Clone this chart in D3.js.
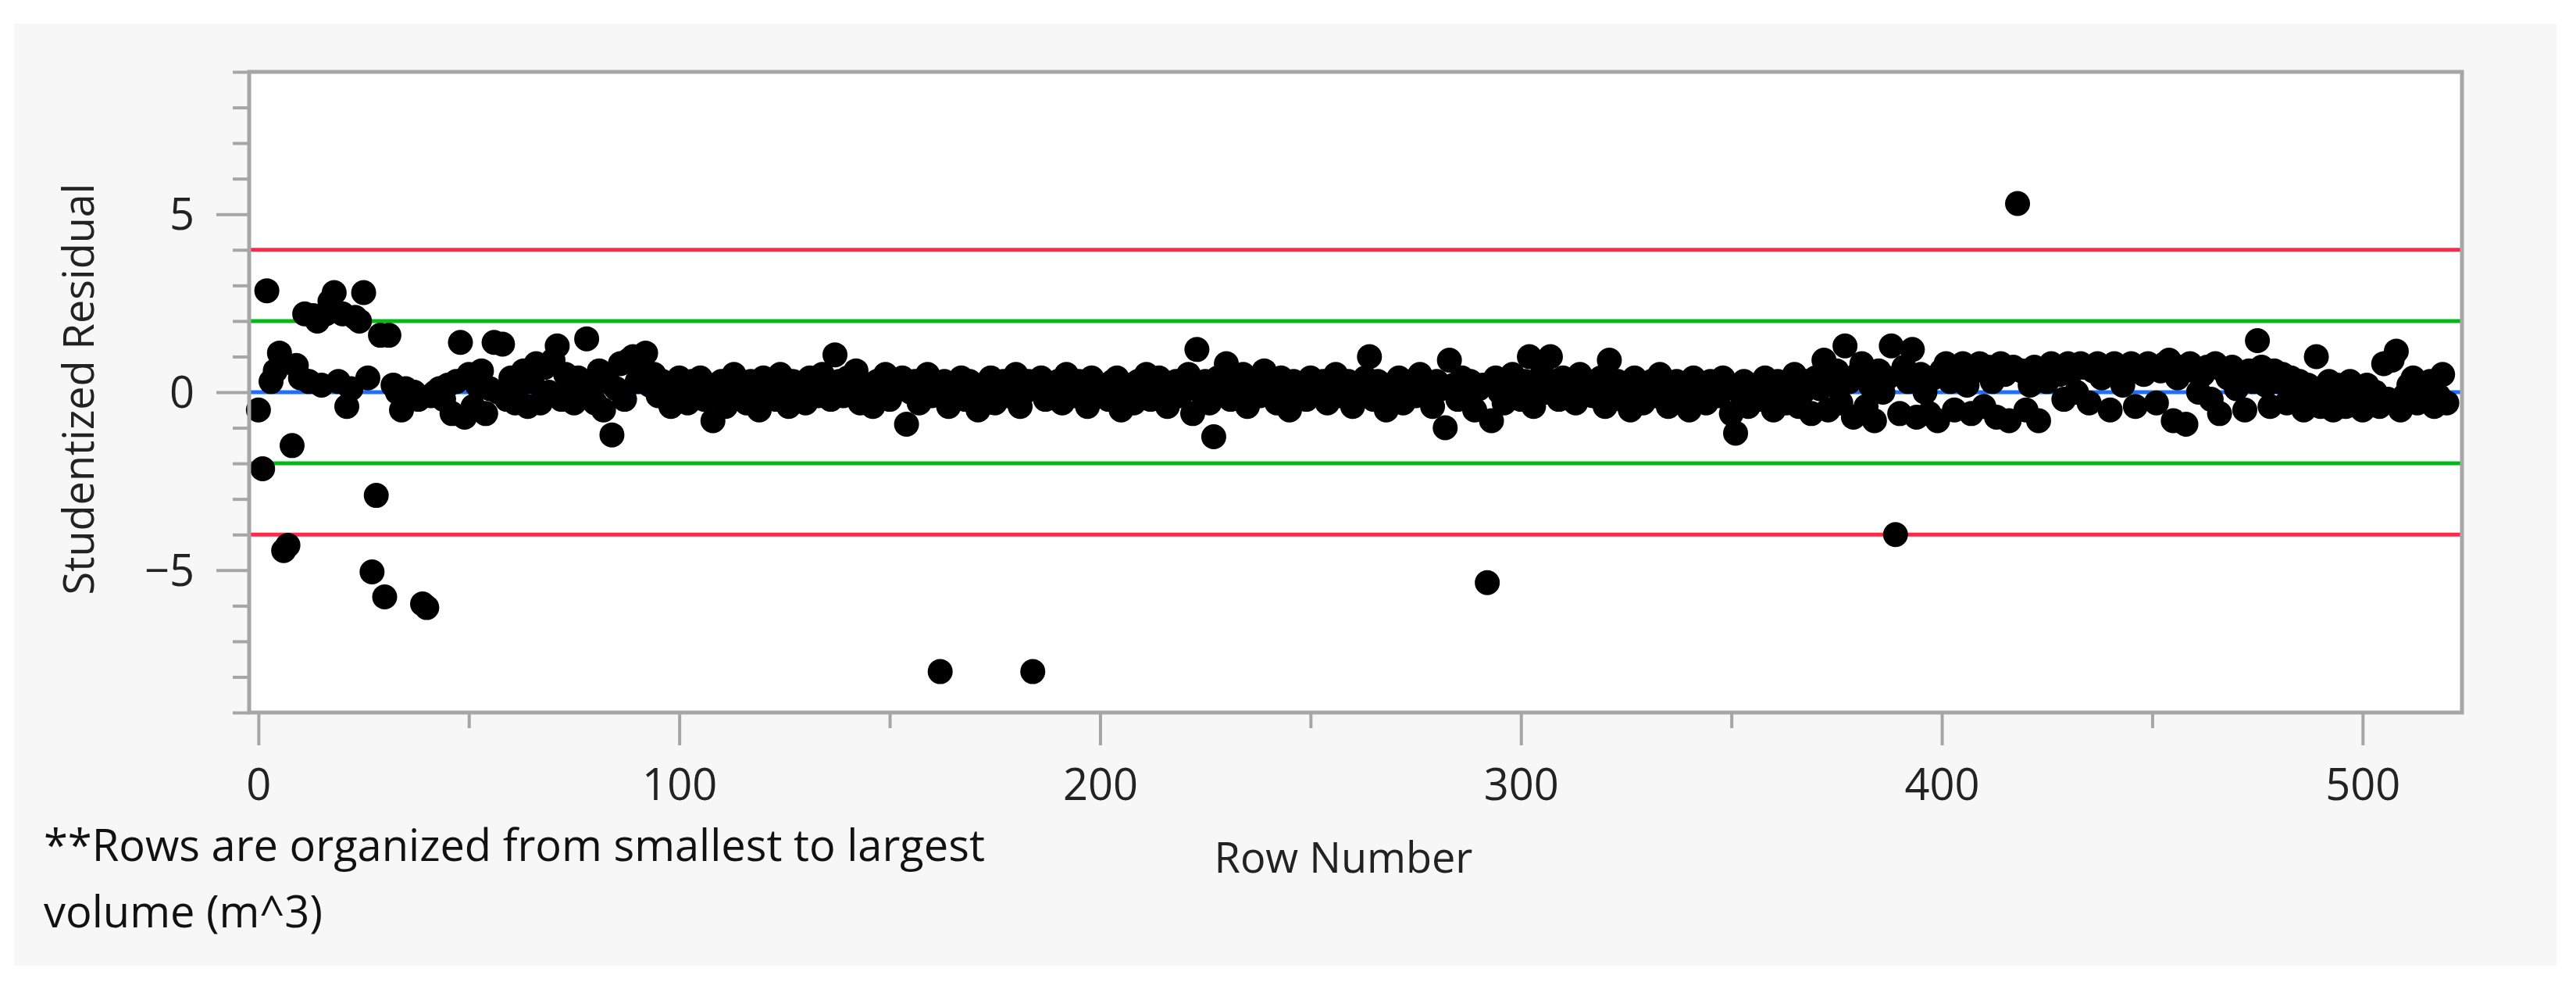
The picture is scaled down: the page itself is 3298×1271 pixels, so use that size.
<!DOCTYPE html>
<html><head><meta charset="utf-8">
<script src="https://cdn.jsdelivr.net/npm/d3@7"></script>
<style>body{margin:0;background:#fff}</style></head>
<body><svg id="c" width="3298" height="1271"></svg>
<script>
// Studentized residual by row number (rows 0..520)
const rows0to40 = [-0.5,-2.15,2.85,0.3,0.6,1.1,-4.45,-4.3,-1.5,0.75,0.4,2.2,0.3,2.15,2.0,0.2,2.2,2.55,2.8,0.3,2.2,-0.4,0.1,2.1,2.0,2.8,0.4,-5.05,-2.9,1.6,-5.75,1.6,0.2,0.0,-0.5,0.1,-0.1,0.0,-0.2,-5.95,-6.05];
const rows41to100 = [-0.1,0.0,0.1,-0.2,0.2,-0.6,0.3,1.4,-0.7,0.5,-0.4,0.2,0.6,-0.6,0.1,1.4,0.0,1.35,-0.2,0.4,-0.3,0.2,0.6,-0.4,0.3,0.8,-0.3,0.7,0.0,0.9,1.3,-0.2,0.5,0.1,-0.3,0.4,0.0,1.5,0.2,-0.3,0.6,-0.5,0.3,-1.2,0.1,0.8,-0.2,0.9,1.0,0.3,0.6,1.1,0.2,0.5,-0.1,0.3,0.0,-0.4,0.2,0.4];
const rows101to200 = [0.1,-0.3,0.3,0.0,0.4,-0.2,0.2,-0.8,0.1,0.3,-0.4,0.0,0.5,-0.1,0.2,-0.3,0.3,0.1,-0.5,0.4,0.0,0.2,-0.2,0.5,0.1,-0.4,0.3,0.0,0.2,-0.3,0.4,0.1,-0.1,0.5,0.2,-0.2,1.05,0.3,-0.1,0.4,0.0,0.6,-0.3,0.2,0.1,-0.4,0.3,0.0,0.5,-0.2,0.2,0.1,0.4,-0.9,0.0,0.3,-0.3,0.2,0.5,-0.1,0.1,-7.85,0.3,-0.4,0.2,0.0,0.4,-0.2,0.3,0.1,-0.5,0.2,0.0,0.4,-0.3,0.1,0.3,-0.1,0.2,0.5,-0.4,0.0,0.3,-7.85,0.1,0.4,-0.2,0.2,0.0,0.3,-0.3,0.5,0.1,-0.1,0.3,0.2,-0.4,0.4,0.0,0.2];
const rows201to300 = [0.1,-0.2,0.3,0.4,-0.5,0.0,0.2,-0.3,0.3,0.1,0.5,-0.2,0.0,0.4,0.2,-0.4,0.1,0.3,-0.1,0.2,0.5,-0.6,1.2,0.0,0.3,-0.3,-1.25,0.4,0.1,0.8,-0.2,0.2,0.0,0.5,-0.4,0.3,0.1,-0.1,0.6,0.0,0.2,-0.3,0.4,0.1,-0.5,0.3,0.0,0.2,-0.2,0.4,0.1,0.0,0.3,-0.3,0.2,0.5,-0.1,0.1,0.3,-0.4,0.0,0.2,0.4,1.0,-0.2,0.3,0.1,-0.5,0.2,0.0,0.4,-0.3,0.1,0.3,-0.1,0.5,0.0,0.2,-0.4,0.3,0.1,-1.0,0.9,0.2,-0.2,0.4,0.0,0.3,-0.5,0.1,0.2,-5.35,-0.8,0.4,0.0,-0.3,0.2,0.5,0.1,-0.2];
const rows301to400 = [0.3,1.0,-0.4,0.2,0.5,0.0,1.0,0.3,-0.2,0.4,0.1,0.2,-0.3,0.5,0.0,0.3,-0.1,0.2,0.4,-0.4,0.9,0.1,0.3,-0.2,0.0,-0.5,0.4,0.2,-0.3,0.1,0.3,-0.1,0.5,0.0,-0.4,0.2,0.3,-0.2,0.1,-0.5,0.4,0.0,0.2,-0.3,0.3,0.1,-0.1,0.4,0.2,-0.6,-1.15,0.0,0.3,-0.4,0.1,0.2,-0.2,0.4,0.0,-0.5,0.3,0.1,-0.3,0.2,0.5,-0.4,0.0,0.3,-0.6,0.4,0.1,0.9,-0.5,0.2,0.6,-0.3,1.3,0.3,-0.7,0.5,0.8,-0.4,0.2,-0.8,0.6,0.0,0.4,1.3,-4.0,-0.6,0.7,0.3,1.2,-0.7,0.5,0.0,-0.6,0.4,-0.8,0.6];
const rows401to520 = [0.8,0.3,-0.5,0.7,0.8,0.2,-0.6,0.6,0.8,-0.4,0.7,0.3,-0.7,0.8,0.5,-0.8,0.7,5.3,0.6,-0.5,0.2,0.7,-0.8,0.6,0.3,0.8,0.7,0.5,-0.2,0.8,0.6,0.0,0.8,0.7,-0.3,0.6,0.8,0.4,0.7,-0.5,0.8,0.6,0.2,0.7,0.8,-0.4,0.6,0.5,0.8,0.7,-0.3,0.6,0.8,0.9,-0.8,0.4,0.7,-0.9,0.8,0.6,0.0,0.5,0.7,-0.2,0.8,-0.6,0.6,0.4,0.7,0.1,0.5,-0.5,0.6,0.3,1.45,0.7,0.2,-0.4,0.6,0.3,0.5,-0.3,0.4,0.0,0.3,-0.5,0.2,-0.3,1.0,-0.4,0.1,0.3,-0.5,0.2,0.0,-0.4,0.3,-0.2,0.1,-0.5,0.2,-0.3,0.0,-0.4,0.8,-0.2,0.9,1.15,-0.5,-0.1,0.2,0.4,-0.3,0.0,-0.2,0.3,-0.4,-0.1,0.5,-0.3];
const residuals = [].concat(rows0to40, rows41to100, rows101to200, rows201to300, rows301to400, rows401to520);
const refLines = [{v:4,c:"#ff2a48"},{v:-4,c:"#ff2a48"},{v:2,c:"#00b816"},{v:-2,c:"#00b816"},{v:0,c:"#1e6fff"}];
const xTicks = [0,100,200,300,400,500];
const xMinor = [50,150,250,350,450];
const yTicks = [-5,0,5];
const yMinor = [-9,-8,-7,-6,-4,-3,-2,-1,1,2,3,4,6,7,8,9];

const svg = d3.select("#c");
const L=319,R=3152,T=92,B=912;
const x = d3.scaleLinear().domain([-2.2,523.6]).range([L,R]);
const y = d3.scaleLinear().domain([-9,9]).range([B,T]);
const font = "'Segoe UI','Open Sans','Noto Sans',sans-serif";

svg.append("rect").attr("x",18).attr("y",30).attr("width",3255).attr("height",1206).attr("fill","#f7f7f7");
svg.append("rect").attr("x",L).attr("y",T).attr("width",R-L).attr("height",B-T).attr("fill","#fff");

const g = svg.append("g");
g.selectAll("line.ref").data(refLines).join("line")
  .attr("x1",L).attr("x2",R).attr("y1",d=>y(d.v)).attr("y2",d=>y(d.v))
  .attr("stroke",d=>d.c).attr("stroke-width",5);
g.selectAll("circle").data(residuals).join("circle")
  .attr("cx",(d,i)=>x(i)).attr("cy",d=>y(d)).attr("r",16).attr("fill","#000");

svg.append("rect").attr("x",L).attr("y",T).attr("width",R-L).attr("height",B-T)
  .attr("fill","none").attr("stroke","#a6a6a6").attr("stroke-width",5);

// x axis
const xa = svg.append("g").attr("transform",`translate(0,${B})`)
  .call(d3.axisBottom(x).tickValues(xTicks).tickSize(42).tickPadding(30).tickFormat(d3.format("d")));
xa.select(".domain").remove();
const xm = svg.append("g").attr("transform",`translate(0,${B})`)
  .call(d3.axisBottom(x).tickValues(xMinor).tickSize(20).tickFormat(""));
xm.select(".domain").remove();
// y axis
const ya = svg.append("g").attr("transform",`translate(${L},0)`)
  .call(d3.axisLeft(y).tickValues(yTicks).tickSize(42).tickPadding(28).tickFormat(d3.format("d")));
ya.select(".domain").remove();
const ym = svg.append("g").attr("transform",`translate(${L},0)`)
  .call(d3.axisLeft(y).tickValues(yMinor).tickSize(21).tickFormat(""));
ym.select(".domain").remove();
svg.selectAll(".tick line").attr("stroke","#a6a6a6").attr("stroke-width",4);
svg.selectAll(".tick text").attr("font-family",font).attr("font-size",56).attr("fill","#222");
ya.selectAll(".tick text").attr("dy","0.35em");

svg.append("text").attr("transform","translate(120,498) rotate(-90)").attr("text-anchor","middle")
  .attr("font-family",font).attr("font-size",54).attr("fill","#222").text("Studentized Residual");
svg.append("text").attr("x",1720).attr("y",1117).attr("text-anchor","middle")
  .attr("font-family",font).attr("font-size",54).attr("fill","#222").text("Row Number");
svg.append("text").attr("x",56).attr("y",1102)
  .attr("font-family",font).attr("font-size",56).attr("fill","#111").text("**Rows are organized from smallest to largest");
svg.append("text").attr("x",56).attr("y",1187)
  .attr("font-family",font).attr("font-size",56).attr("fill","#111").text("volume (m^3)");
</script></body></html>
